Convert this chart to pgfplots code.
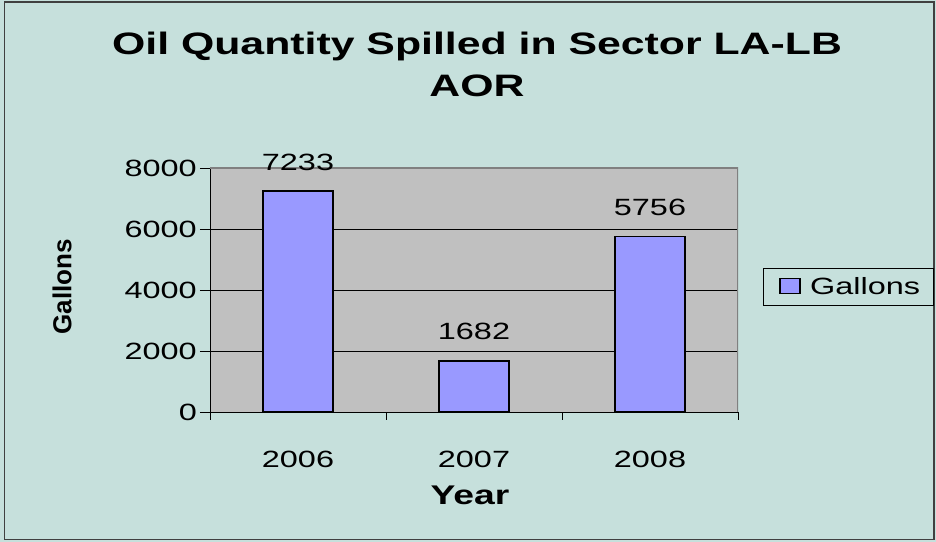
\documentclass[border=0pt]{standalone}
\usepackage{fontspec}
\setmainfont[FakeStretch=1.38]{Liberation Sans}
\newfontfamily\ylabfont{Liberation Sans}
\usepackage{pgfplots}
\pgfplotsset{compat=1.18}
\definecolor{bgteal}{RGB}{198,224,220}
\definecolor{plotgray}{RGB}{192,192,192}
\definecolor{barblue}{RGB}{153,153,255}
\definecolor{bordergray}{RGB}{128,128,128}
\newcommand{\tickfont}{\fontsize{23.5bp}{28bp}\selectfont}
\begin{document}
\begin{tikzpicture}[x=1bp,y=1bp]
\fill[bgteal] (-210,-130) rectangle (726,412);
\draw[black!75, line width=1.2bp] (-205.5,-127.5) rectangle (724,410);
\begin{axis}[
  scale only axis, width=528bp, height=244bp,
  ybar,
  xmin=-0.5, xmax=2.5, ymin=0, ymax=8000,
  /pgf/number format/assume math mode=true,
  /pgf/number format/1000 sep={},
  axis background/.style={fill=plotgray},
  axis x line*=bottom, axis y line*=left,
  axis line style={black, line width=0.9bp, -},
  tick align=outside,
  major tick length=10bp, minor tick length=8bp,
  xtick={0,1,2}, xticklabels={2006,2007,2008},
  major x tick style={draw=none},
  minor xtick={-0.5,0.5,1.5,2.5},
  minor x tick style={black, line width=0.9bp},
  ytick={0,2000,4000,6000,8000},
  y tick style={black, line width=0.9bp},
  extra y ticks={2000,4000,6000},
  extra y tick labels={},
  extra y tick style={grid=major, major tick length=0bp},
  grid style={black, line width=0.8bp},
  ticklabel style={font=\tickfont},
  yticklabel style={inner sep=0pt, xshift=-3bp},
  xticklabel style={anchor=north, inner sep=0pt, yshift=-29bp},
  bar width=0.4,
  nodes near coords,
  nodes near coords style={font=\tickfont, anchor=south, inner sep=0pt, yshift=20bp},
  legend style={at={(1.047,0.59)}, anchor=north west, draw=black, fill=bgteal,
    font=\tickfont, inner xsep=11bp, inner ysep=7bp, line width=0.8bp},
  legend image code/.code={\path[draw=none, fill=none] (-6bp,0) -- (28bp,0);\draw[fill=barblue, draw=black, line width=1.5bp] (0bp,-7bp) rectangle (20bp,8bp);},
]
\addplot[fill=barblue, draw=black, line width=1.8bp] coordinates {(0,7233) (1,1682) (2,5756)};
\addlegendentry{Gallons}
\draw[bordergray, line width=1.5bp] (axis cs:-0.5,8000) -- (axis cs:2.5,8000) -- (axis cs:2.5,0);
\end{axis}
\node[anchor=base, font=\bfseries\fontsize{31bp}{36bp}\selectfont] at (267,357) {Oil Quantity Spilled in Sector LA-LB};
\node[anchor=base, font=\bfseries\fontsize{31bp}{36bp}\selectfont] at (267,315) {AOR};
\node[anchor=base, font=\bfseries\fontsize{27bp}{32bp}\selectfont] at (260,-93) {Year};
\node[rotate=90, font=\ylabfont\bfseries\fontsize{26bp}{30bp}\selectfont] at (-148,125) {Gallons};
\pgfresetboundingbox
\useasboundingbox (-210,-130) rectangle (726,412);
\end{tikzpicture}
\end{document}
